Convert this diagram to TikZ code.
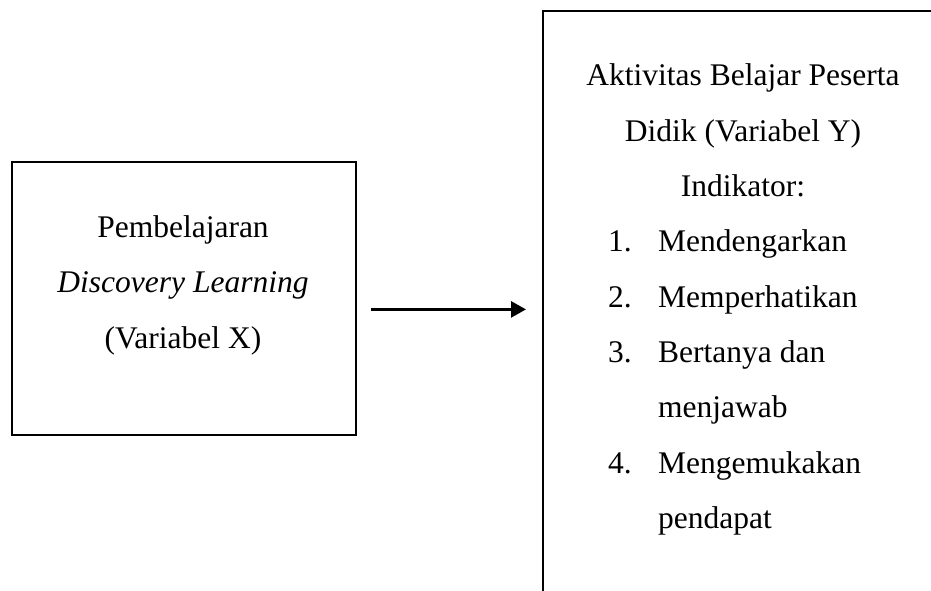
\documentclass[tikz,border=0pt]{standalone}
\usepackage{fontspec}
\setmainfont{Liberation Serif}
\usetikzlibrary{arrows.meta,calc}
\tikzset{
  boxframe/.style={draw=black, line width=1.8pt, inner sep=0pt, anchor=north west},
  txt/.style={inner sep=0pt, anchor=base, font=\fontsize{31.5}{36}\selectfont},
  txtw/.style={inner sep=0pt, anchor=base west, font=\fontsize{31.5}{36}\selectfont},
  conn/.style={line width=2.7pt, -{Triangle[length=15pt,width=16pt]}}
}
\begin{document}
\begin{tikzpicture}[x=1pt,y=-1pt]
\useasboundingbox (0,0) rectangle (931,591);
\clip (0,0) rectangle (931,591);
\node[boxframe, minimum width=344pt, minimum height=273pt] (lbox) at (11,161) {};
\node[boxframe, minimum width=420pt, minimum height=620pt] (rbox) at (542,10.5) {};
% left text
\node[txt] (l1) at (183,237) {Pembelajaran};
\node[txt] (l2) at (183,292) {\itshape Discovery Learning};
\node[txt] (l3) at (183,348) {(Variabel X)};
% right text
\node[txt] (r1) at (743,86) {Aktivitas Belajar Peserta};
\node[txt] (r2) at (743,141.3) {Didik (Variabel Y)};
\node[txt] (r3) at (743,196.6) {Indikator:};
\node[txtw] (n1) at (608,251.9) {1.};
\node[txtw] (t1) at (658,251.9) {Mendengarkan};
\node[txtw] (n2) at (608,307.2) {2.};
\node[txtw] (t2) at (658,307.2) {Memperhatikan};
\node[txtw] (n3) at (608,362.5) {3.};
\node[txtw] (t3) at (658,362.5) {Bertanya dan};
\node[txtw] (t3b) at (658,417.8) {menjawab};
\node[txtw] (n4) at (608,473.1) {4.};
\node[txtw] (t4) at (658,473.1) {Mengemukakan};
\node[txtw] (t4b) at (658,528.4) {pendapat};
% connector
\coordinate (a1) at ([yshift=-11pt]lbox.east);
\draw[conn, shorten <=14pt, shorten >=16pt] (a1) -- (a1 -| rbox.west);
\end{tikzpicture}
\end{document}
